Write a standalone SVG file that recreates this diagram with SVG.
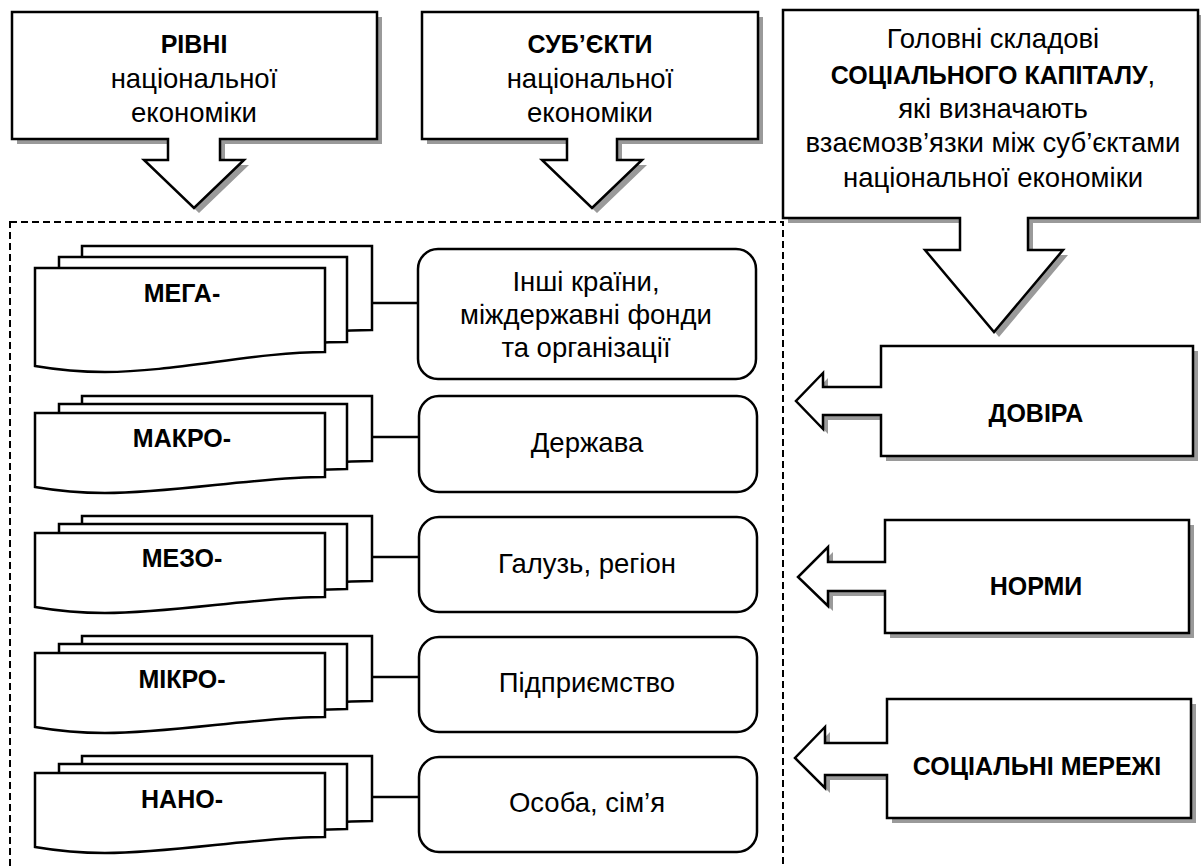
<svg xmlns="http://www.w3.org/2000/svg" xmlns:xlink="http://www.w3.org/1999/xlink" width="1201" height="867" viewBox="0 0 1201 867">
<style>
.shape{fill:#fff;stroke:#000;stroke-width:2.5;stroke-linejoin:miter}
.shadow{fill:#9a9a9a;stroke:none}
.doc{fill:#fff;stroke:#000;stroke-width:2.5;stroke-linejoin:miter}
.rbox{fill:#fff;stroke:#000;stroke-width:2.5}
.conn{stroke:#000;stroke-width:2.5;fill:none}
.dash{fill:none;stroke:#000;stroke-width:2;stroke-dasharray:7 4}
text{font-family:"Liberation Sans",Arial,sans-serif;fill:#000;text-anchor:middle}
.r{font-size:27.5px}
.b{font-size:25px;font-weight:bold}
</style>
<defs>
<path id="p-levels" d="M12,12 H377 V139 H220 V160 H244 L194,208 L144,160 H168 V139 H12 Z"/>
<path id="p-subjects" d="M422,12 H758 V139 H617 V160 H642 L592,208 L542,160 H567 V139 H422 Z"/>
<path id="p-capital" d="M783,10 H1198 V218 H1028 V250 H1063 L994,332 L925,250 H960 V218 H783 Z"/>
<path id="p-trust" d="M881,346 H1193 V456 H881 V415 H823 V429 L796,401 L823,373 V387 H881 Z"/>
<path id="p-norms" d="M885,520 H1189 V633 H885 V591 H828 V606 L798,577 L828,547 V562 H885 Z"/>
<path id="p-networks" d="M887,699 H1191 V818 H887 V775 H825 V788 L795,758 L825,727 V743 H887 Z"/>
</defs>

<rect id="frame" class="dash" x="10" y="222" width="773" height="660"/>

<g id="levels">
<use xlink:href="#p-levels" class="shadow" transform="translate(5,5)"/>
<use xlink:href="#p-levels" class="shape"/>
<text class="b" x="194" y="53">РІВНІ</text>
<text class="r" x="194" y="88">національної</text>
<text class="r" x="194" y="122">економіки</text>
</g>

<g id="subjects">
<use xlink:href="#p-subjects" class="shadow" transform="translate(5,5)"/>
<use xlink:href="#p-subjects" class="shape"/>
<text class="b" x="590" y="53">СУБ’ЄКТИ</text>
<text class="r" x="590" y="88">національної</text>
<text class="r" x="590" y="122">економіки</text>
</g>

<g id="capital">
<use xlink:href="#p-capital" class="shadow" transform="translate(5,5)"/>
<use xlink:href="#p-capital" class="shape"/>
<text class="r" x="993" y="48">Головні складові</text>
<text x="993" y="84"><tspan class="b">СОЦІАЛЬНОГО КАПІТАЛУ</tspan><tspan class="r">,</tspan></text>
<text class="r" x="993" y="118">які визначають</text>
<text class="r" x="993" y="152">взаємозв’язки між суб’єктами</text>
<text class="r" x="993" y="187">національної економіки</text>
</g>

<g id="trust">
<use xlink:href="#p-trust" class="shadow" transform="translate(5,5)"/>
<use xlink:href="#p-trust" class="shape"/>
<text class="b" x="1036" y="422">ДОВІРА</text>
</g>

<g id="norms">
<use xlink:href="#p-norms" class="shadow" transform="translate(5,5)"/>
<use xlink:href="#p-norms" class="shape"/>
<text class="b" x="1036" y="595">НОРМИ</text>
</g>

<g id="networks">
<use xlink:href="#p-networks" class="shadow" transform="translate(5,5)"/>
<use xlink:href="#p-networks" class="shape"/>
<text class="b" x="1037" y="775">СОЦІАЛЬНІ МЕРЕЖІ</text>
</g>

<g id="mega">
<path class="doc" d="M82,246 H372 V330 C300,330 220,344 152,344 Q117,344 82,340 Z"/>
<path class="doc" d="M59,257 H347 V342 C275,342 195,356 129,356 Q94,356 59,352 Z"/>
<path class="doc" d="M35,268 H325 V352 C255,352 175,372 105,372 Q70,372 35,366 Z"/>
<text class="b" x="182" y="302">МЕГА-</text>
</g>

<g id="macro">
<path class="doc" d="M82,396 H372 V461 C300,461 220,477 152,477 Q117,477 82,471 Z"/>
<path class="doc" d="M59,404 H347 V469 C275,469 195,485 129,485 Q94,485 59,479 Z"/>
<path class="doc" d="M35,413 H325 V477 C255,477 175,493 105,493 Q70,493 35,487 Z"/>
<text class="b" x="182" y="447">МАКРО-</text>
</g>

<g id="meso">
<path class="doc" d="M82,516 H372 V581 C300,581 220,597 152,597 Q117,597 82,591 Z"/>
<path class="doc" d="M59,524 H347 V589 C275,589 195,605 129,605 Q94,605 59,599 Z"/>
<path class="doc" d="M35,533 H325 V597 C255,597 175,613 105,613 Q70,613 35,607 Z"/>
<text class="b" x="182" y="567">МЕЗО-</text>
</g>

<g id="micro">
<path class="doc" d="M82,636 H372 V701 C300,701 220,717 152,717 Q117,717 82,711 Z"/>
<path class="doc" d="M59,644 H347 V709 C275,709 195,725 129,725 Q94,725 59,719 Z"/>
<path class="doc" d="M35,653 H325 V717 C255,717 175,733 105,733 Q70,733 35,727 Z"/>
<text class="b" x="182" y="688">МІКРО-</text>
</g>

<g id="nano">
<path class="doc" d="M82,756 H372 V821 C300,821 220,837 152,837 Q117,837 82,831 Z"/>
<path class="doc" d="M59,764 H347 V829 C275,829 195,845 129,845 Q94,845 59,839 Z"/>
<path class="doc" d="M35,773 H325 V837 C255,837 175,853 105,853 Q70,853 35,847 Z"/>
<text class="b" x="182" y="808">НАНО-</text>
</g>

<g id="s-countries">
<rect class="rbox" x="418" y="249" width="338" height="130" rx="20"/>
<text class="r" x="586" y="291">Інші країни,</text>
<text class="r" x="586" y="324">міждержавні фонди</text>
<text class="r" x="586" y="357">та організації</text>
</g>

<g id="s-state">
<rect class="rbox" x="419" y="396" width="338" height="96" rx="20"/>
<text class="r" x="587" y="452">Держава</text>
</g>

<g id="s-industry">
<rect class="rbox" x="419" y="517" width="338" height="95" rx="20"/>
<text class="r" x="587" y="573">Галузь, регіон</text>
</g>

<g id="s-enterprise">
<rect class="rbox" x="419" y="637" width="338" height="95" rx="20"/>
<text class="r" x="587" y="692">Підприємство</text>
</g>

<g id="s-family">
<rect class="rbox" x="419" y="757" width="338" height="95" rx="20"/>
<text class="r" x="587" y="812">Особа, сім’я</text>
</g>

<g id="connectors">
<line class="conn" x1="372" y1="303" x2="419" y2="303"/>
<line class="conn" x1="372" y1="437" x2="419" y2="437"/>
<line class="conn" x1="372" y1="557" x2="419" y2="557"/>
<line class="conn" x1="372" y1="677" x2="419" y2="677"/>
<line class="conn" x1="372" y1="797" x2="419" y2="797"/>
</g>
</svg>
